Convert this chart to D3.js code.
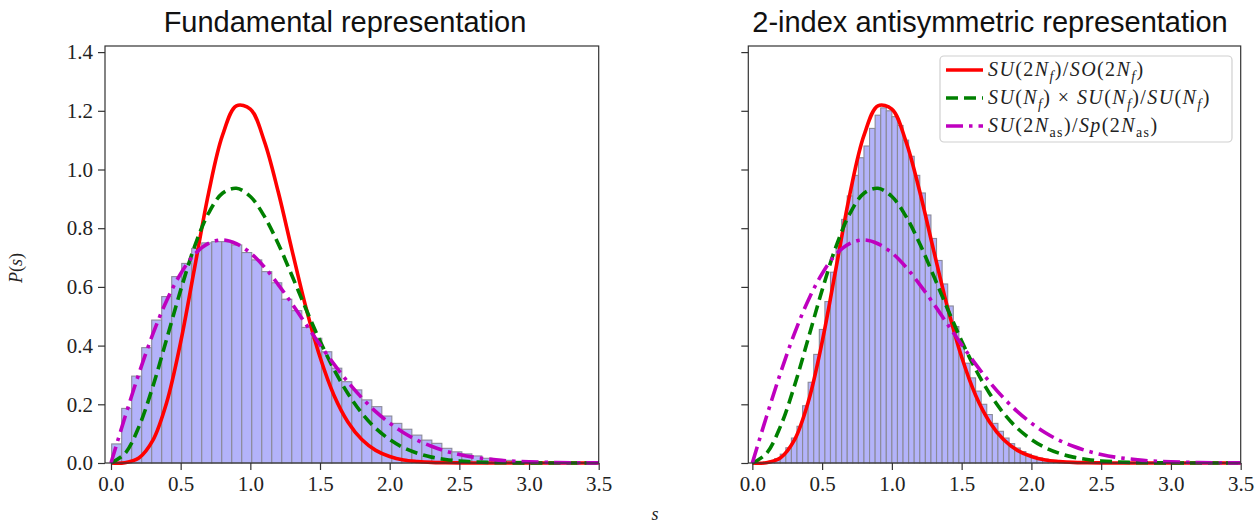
<!DOCTYPE html>
<html>
<head>
<meta charset="utf-8">
<script src="https://cdn.jsdelivr.net/npm/d3@7"></script>
<style>
  html, body { margin: 0; padding: 0; background: #fff; }
  svg { display: block; }
</style>
</head>
<body>
<svg id="chart" width="1256" height="523"></svg>
<script>
// Level-spacing histograms for the two representations
const leftBinStart = 0.005;
const leftBinWidth = 0.0718;
const leftCounts = [0.065,0.186,0.296,0.393,0.487,0.567,0.635,0.680,0.731,0.750,0.754,0.754,0.743,0.717,0.692,0.652,0.614,0.558,0.519,0.462,0.425,0.379,0.323,0.277,0.249,0.215,0.192,0.160,0.135,0.115,0.095,0.078,0.067,0.050,0.038,0.031,0.024,0.016,0.012,0.009,0.006,0.004,0.003,0.002,0.001];

const rightBinStart = 0.0;
const rightBinWidth = 0.04;
const rightCounts = [0,0,0.002,0.006,0.015,0.030,0.052,0.085,0.125,0.195,0.275,0.370,0.455,0.550,0.650,0.740,0.830,0.910,0.980,1.040,1.080,1.140,1.185,1.210,1.200,1.180,1.150,1.100,1.045,0.980,0.920,0.845,0.765,0.690,0.610,0.535,0.465,0.400,0.340,0.290,0.245,0.200,0.165,0.135,0.108,0.085,0.066,0.051,0.039,0.030,0.023,0.017,0.013,0.009,0.007,0.005,0.004,0.003,0.002,0.001,0.001];

// Surmise curves sampled on a common grid
const sGrid = [0,0.1,0.2,0.3,0.4,0.5,0.6,0.7,0.8,0.9,1.0,1.1,1.2,1.3,1.4,1.5,1.6,1.7,1.8,1.9,2.0,2.1,2.2,2.3,2.4,2.5,2.6,2.7,2.8,2.9,3.0,3.1,3.2,3.3,3.4,3.5];
const curveSO = [0,0.001,0.017,0.077,0.207,0.412,0.665,0.919,1.116,1.217,1.206,1.097,0.924,0.723,0.528,0.361,0.231,0.140,0.080,0.043,0.022,0.010,0.005,0.002,0.001,0.0003,0.0001,0,0,0,0,0,0,0,0,0];
const curveSU = [0,0.032,0.123,0.260,0.423,0.589,0.738,0.851,0.919,0.936,0.908,0.841,0.747,0.637,0.524,0.416,0.319,0.237,0.170,0.118,0.080,0.052,0.033,0.020,0.012,0.007,0.004,0.002,0.001,0.0005,0.0003,0.0001,0,0,0,0];
const curveSp = [0,0.156,0.304,0.439,0.554,0.645,0.711,0.748,0.760,0.747,0.716,0.668,0.608,0.542,0.472,0.403,0.337,0.276,0.222,0.175,0.136,0.103,0.077,0.057,0.041,0.029,0.020,0.014,0.009,0.006,0.004,0.0025,0.0016,0.001,0.0006,0.0004];

const xTicks = [0,0.5,1.0,1.5,2.0,2.5,3.0,3.5];
const yTicks = [0,0.2,0.4,0.6,0.8,1.0,1.2,1.4];
const panelTitles = ["Fundamental representation", "2-index antisymmetric representation"];

const series = [
  {values: curveSO, color: "#ff0000", dash: null,
   label: [["SU","i"],["(2","r"],["N","i"],["f","si"],[")/","r"],["SO","i"],["(2","r"],["N","i"],["f","si"],[")","r"]]},
  {values: curveSU, color: "#008000", dash: "12,6",
   label: [["SU","i"],["(","r"],["N","i"],["f","si"],[") × ","r"],["SU","i"],["(","r"],["N","i"],["f","si"],[")/","r"],["SU","i"],["(","r"],["N","i"],["f","si"],[")","r"]]},
  {values: curveSp, color: "#bf00bf", dash: "17,6,3.5,6",
   label: [["SU","i"],["(2","r"],["N","i"],["as","sr"],[")/","r"],["Sp","i"],["(2","r"],["N","i"],["as","sr"],[")","r"]]}
];

const svg = d3.select("#chart");
const serif = "'Liberation Serif', 'DejaVu Serif', serif";
const sans = "'Liberation Sans', Arial, sans-serif";

const y = d3.scaleLinear().domain([0, 1.4208]).range([463, 46]);

const panels = [
  {x0: 105, x1: 598.7, xmin: -0.043, counts: leftCounts, start: leftBinStart, width: leftBinWidth, title: panelTitles[0], titleX: 345, yLabels: true, legend: false},
  {x0: 748.3, x1: 1240.7, xmin: -0.029, counts: rightCounts, start: rightBinStart, width: rightBinWidth, title: panelTitles[1], titleX: 990, yLabels: false, legend: true}
];

panels.forEach(p => {
  const x = d3.scaleLinear().domain([p.xmin, 3.5]).range([p.x0, p.x1]);
  const g = svg.append("g");

  // histogram bars
  g.append("g").selectAll("rect")
    .data(p.counts)
    .join("rect")
    .attr("x", (d, i) => x(p.start + i * p.width))
    .attr("width", x(p.start + p.width) - x(p.start))
    .attr("y", d => y(d))
    .attr("height", d => y(0) - y(d))
    .attr("fill", "rgb(179,179,250)")
    .attr("stroke", "#8a8a98")
    .attr("stroke-width", 1.1);

  // curves
  const line = d3.line()
    .x((d, i) => x(sGrid[i]))
    .y(d => y(d))
    .curve(d3.curveCatmullRom.alpha(0.5));
  series.forEach(s => {
    g.append("path")
      .attr("d", line(s.values))
      .attr("fill", "none")
      .attr("stroke", s.color)
      .attr("stroke-width", 3.6)
      .attr("stroke-dasharray", s.dash)
      .attr("stroke-linejoin", "round");
  });

  // axes
  const xAxis = d3.axisBottom(x).tickValues(xTicks).tickSize(7).tickPadding(6)
    .tickFormat(d3.format(".1f"));
  const xa = g.append("g").attr("transform", `translate(0,${y(0)})`).call(xAxis);
  xa.select(".domain").remove();
  xa.selectAll("text").attr("font-family", serif).attr("font-size", 21).attr("fill", "#222");
  xa.selectAll("line").attr("stroke", "#333").attr("stroke-width", 1.2);

  const yAxis = d3.axisLeft(y).tickValues(yTicks).tickSize(7).tickPadding(5)
    .tickFormat(p.yLabels ? d3.format(".1f") : () => "");
  const ya = g.append("g").attr("transform", `translate(${p.x0},0)`).call(yAxis);
  ya.select(".domain").remove();
  ya.selectAll("text").attr("font-family", serif).attr("font-size", 21).attr("fill", "#222");
  ya.selectAll("line").attr("stroke", "#333").attr("stroke-width", 1.2);

  // frame
  g.append("rect")
    .attr("x", p.x0).attr("y", 46)
    .attr("width", p.x1 - p.x0).attr("height", y(0) - 46)
    .attr("fill", "none").attr("stroke", "#333").attr("stroke-width", 1.2);

  // title
  svg.append("text")
    .attr("x", p.titleX).attr("y", 32)
    .attr("text-anchor", "middle")
    .attr("font-family", sans).attr("font-size", 29).attr("fill", "#111")
    .text(p.title);

  if (p.legend) {
    const lg = svg.append("g");
    lg.append("rect")
      .attr("x", 940).attr("y", 56).attr("width", 292).attr("height", 86)
      .attr("rx", 4).attr("fill", "rgba(255,255,255,0.85)")
      .attr("stroke", "#d0d0d0").attr("stroke-width", 1.2);
    series.forEach((s, k) => {
      const cy = 70 + k * 28;
      lg.append("line")
        .attr("x1", 946).attr("x2", 983).attr("y1", cy).attr("y2", cy)
        .attr("stroke", s.color).attr("stroke-width", 3.6)
        .attr("stroke-dasharray", s.dash);
      const t = lg.append("text")
        .attr("x", 988).attr("y", cy + 6)
        .attr("font-family", serif).attr("font-size", 20)
        .attr("letter-spacing", 1.4).attr("fill", "#222");
      let shifted = 0;
      s.label.forEach(([txt, st]) => {
        const ts = t.append("tspan").text(txt);
        const sub = st === "si" || st === "sr";
        const target = sub ? 5 : 0;
        if (target !== shifted) { ts.attr("dy", target - shifted); shifted = target; }
        ts.attr("font-style", (st === "i" || st === "si") ? "italic" : "normal");
        if (sub) ts.attr("font-size", 14);
      });
    });
  }
});

// shared axis labels
const yl = svg.append("text")
  .attr("transform", "translate(22,268) rotate(-90)")
  .attr("text-anchor", "middle")
  .attr("font-family", serif).attr("font-size", 18).attr("fill", "#222");
yl.append("tspan").attr("font-style", "italic").text("P");
yl.append("tspan").text("(");
yl.append("tspan").attr("font-style", "italic").text("s");
yl.append("tspan").text(")");

svg.append("text")
  .attr("x", 655).attr("y", 520)
  .attr("text-anchor", "middle")
  .attr("font-family", serif).attr("font-size", 18).attr("font-style", "italic").attr("fill", "#222")
  .text("s");
</script>
</body>
</html>
